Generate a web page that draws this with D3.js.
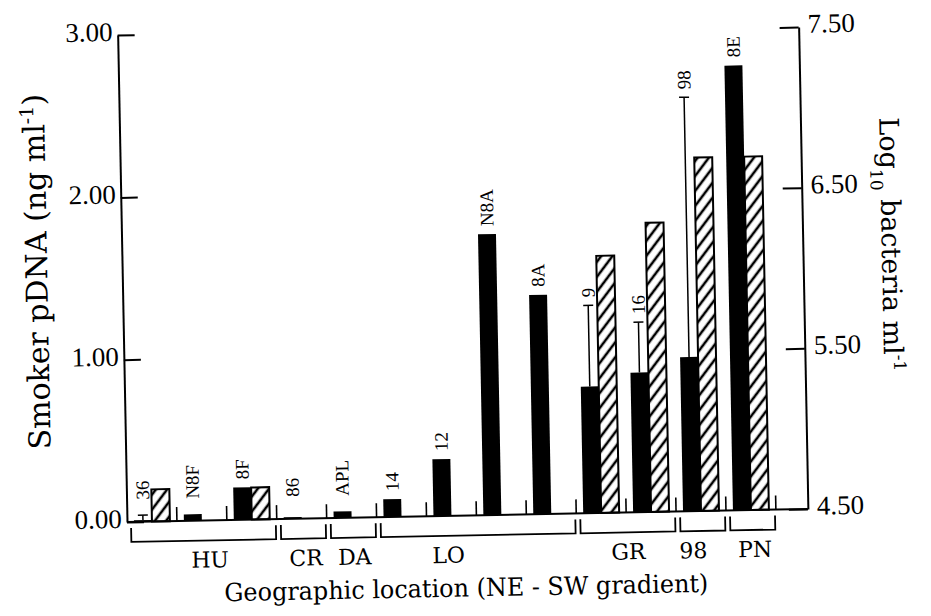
<!DOCTYPE html>
<html>
<head>
<meta charset="utf-8">
<script src="https://cdn.jsdelivr.net/npm/d3@7"></script>
<style>
  body { margin: 0; background: #fff; }
  text { font-family: "Liberation Serif", serif; fill: #000; }
  .title, .grp { font-family: "DejaVu Serif", serif; }
</style>
</head>
<body>
<div id="chart"></div>
<script>
// sites along the NE - SW gradient
const sites = ["36", "N8F", "8F", "86", "APL", "14", "12", "N8A", "8A", "9", "16", "98", "8E"];
// smoker pDNA (ng/ml), black bars
const pdna = [0.01, 0.04, 0.20, 0.01, 0.04, 0.11, 0.35, 1.73, 1.35, 0.78, 0.86, 0.95, 2.74];
// upper end of error bar, pDNA
const pdnaErr = [0.04, null, null, null, null, null, null, null, null, 1.28, 1.17, 2.55, null];
// log10 bacteria/ml, hatched bars
const bacteria = [4.70, null, 4.70, null, null, null, null, null, null, 6.10, 6.30, 6.70, 6.70];
// geographic groups
const groups = ["HU", "CR", "DA", "LO", "GR", "98", "PN"];
const groupSites = [["36", "N8F", "8F"], ["86"], ["APL"], ["14", "12", "N8A", "8A"], ["9", "16"], ["98"], ["8E"]];
const leftTicks = [0, 1, 2, 3];
const rightTicks = [4.5, 5.5, 6.5, 7.5];

const width = 931, height = 616;
const x0 = 127, x1 = 808, base = 522;

const svg = d3.select("#chart").append("svg")
    .attr("width", width)
    .attr("height", height);

svg.append("rect").attr("width", width).attr("height", height).attr("fill", "#fff");

svg.append("defs")
    .append("pattern")
    .attr("id", "hatch")
    .attr("patternUnits", "userSpaceOnUse")
    .attr("width", 9)
    .attr("height", 9)
    .attr("patternTransform", "rotate(38)")
    .append("line")
    .attr("x1", 2).attr("y1", 0)
    .attr("x2", 2).attr("y2", 9)
    .attr("stroke", "#000")
    .attr("stroke-width", 2.6);

// the scanned figure sits slightly tilted
const g = svg.append("g").attr("transform", "rotate(-1.1," + x0 + "," + base + ")");

const x = d3.scaleBand().domain(sites).range([x0, 776]).paddingInner(0.28).paddingOuter(0.14);
const xi = d3.scaleBand().domain(["dna", "bac"]).range([0, x.bandwidth()]);
const yL = d3.scaleLinear().domain([0, 3]).range([base, 35]);
const yR = d3.scaleLinear().domain([4.5, 7.5]).range([base, 40]);

// left axis, ticks pointing inward
const axL = g.append("g")
    .attr("transform", "translate(" + x0 + ",0)")
    .call(d3.axisLeft(yL).tickValues(leftTicks).tickFormat(d3.format(".2f"))
        .tickSizeInner(-17).tickSizeOuter(0).tickPadding(5));
const axR = g.append("g")
    .attr("transform", "translate(" + x1 + ",0)")
    .call(d3.axisRight(yR).tickValues(rightTicks).tickFormat(d3.format(".2f"))
        .tickSizeInner(-19).tickSizeOuter(0).tickPadding(9));
[axL, axR].forEach(a => {
    a.selectAll("path, line").attr("stroke", "#000").attr("stroke-width", 2);
    a.selectAll("text").style("font-size", "27px").style("font-family", "Liberation Serif").attr("dy", "0.2em");
});

// baseline
g.append("line")
    .attr("x1", x0).attr("x2", x1)
    .attr("y1", base).attr("y2", base)
    .attr("stroke", "#000").attr("stroke-width", 2);

// little separators between sites
const gap = x.step() - x.bandwidth();
g.selectAll(".sep").data(sites)
    .enter().append("line")
    .attr("class", "sep")
    .attr("x1", d => x(d) + x.bandwidth() + gap / 2)
    .attr("x2", d => x(d) + x.bandwidth() + gap / 2)
    .attr("y1", base).attr("y2", base - 14)
    .attr("stroke", "#000").attr("stroke-width", 1.6);

const rows = sites.map((s, i) => ({site: s, dna: pdna[i], err: pdnaErr[i], bac: bacteria[i]}));

// hatched bars (bacteria, right scale)
g.selectAll(".bac").data(rows.filter(d => d.bac != null))
    .enter().append("rect")
    .attr("class", "bac")
    .attr("x", d => x(d.site) + xi("bac"))
    .attr("width", xi.bandwidth())
    .attr("y", d => yR(d.bac))
    .attr("height", d => base - yR(d.bac))
    .attr("fill", "url(#hatch)")
    .attr("stroke", "#000")
    .attr("stroke-width", 2);

// black bars (pDNA, left scale)
g.selectAll(".dna").data(rows)
    .enter().append("rect")
    .attr("class", "dna")
    .attr("x", d => x(d.site) + xi("dna"))
    .attr("width", xi.bandwidth())
    .attr("y", d => yL(d.dna))
    .attr("height", d => base - yL(d.dna))
    .attr("fill", "#000");

// error bars
const errRows = rows.filter(d => d.err != null);
const cx = d => x(d.site) + xi("dna") + xi.bandwidth() / 2;
g.selectAll(".err").data(errRows)
    .enter().append("line")
    .attr("class", "err")
    .attr("x1", cx).attr("x2", cx)
    .attr("y1", d => yL(d.dna)).attr("y2", d => yL(d.err))
    .attr("stroke", "#000").attr("stroke-width", 1.5);
g.selectAll(".cap").data(errRows)
    .enter().append("line")
    .attr("class", "cap")
    .attr("x1", d => cx(d) - 5).attr("x2", d => cx(d) + 5)
    .attr("y1", d => yL(d.err)).attr("y2", d => yL(d.err))
    .attr("stroke", "#000").attr("stroke-width", 1.5);

// site labels, rotated
g.selectAll(".site").data(rows)
    .enter().append("text")
    .attr("class", "site")
    .attr("transform", d => {
        let top = Math.min(yL(d.dna), d.err != null ? yL(d.err) : base) - 8;
        top = Math.min(top, base - 22);
        return "translate(" + cx(d) + "," + top + ") rotate(-90)";
    })
    .attr("dy", "0.35em")
    .style("font-size", "19px")
    .text(d => d.site);

// group brackets
const grp = groups.map((name, i) => {
    const s = groupSites[i];
    return {name: name, xs: x(s[0]) - 3, xe: x(s[s.length - 1]) + x.bandwidth() + 6};
});
g.selectAll(".bracket").data(grp)
    .enter().append("path")
    .attr("class", "bracket")
    .attr("d", d => "M" + d.xs + "," + (base + 6) + "V" + (base + 20) + "H" + d.xe + "V" + (base + 6))
    .attr("fill", "none")
    .attr("stroke", "#000")
    .attr("stroke-width", 1.8);

const nudge = {HU: 6, CR: 2, DA: 1, LO: -30, "98": -10, PN: 2};
g.selectAll(".grp").data(grp)
    .enter().append("text")
    .attr("class", "grp")
    .attr("x", d => (d.xs + d.xe) / 2 + (nudge[d.name] || 0))
    .attr("y", base + 47)
    .attr("text-anchor", "middle")
    .style("font-size", "22px")
    .text(d => d.name);

// axis titles
g.append("text")
    .attr("class", "title")
    .attr("x", 465).attr("y", 603)
    .attr("text-anchor", "middle")
    .attr("textLength", 484)
    .attr("lengthAdjust", "spacingAndGlyphs")
    .style("font-size", "25px")
    .text("Geographic location (NE - SW gradient)");

const tl = g.append("text")
    .attr("class", "title")
    .attr("transform", "translate(52,270) rotate(-90)")
    .attr("text-anchor", "middle")
    .style("font-size", "30px");
tl.append("tspan").text("Smoker pDNA (ng ml");
tl.append("tspan").attr("baseline-shift", "super").style("font-size", "19px").text("-1");
tl.append("tspan").text(")");

const tr = g.append("text")
    .attr("class", "title")
    .attr("transform", "translate(887,259) rotate(90)")
    .attr("text-anchor", "middle")
    .style("font-size", "27px");
tr.append("tspan").text("Log");
tr.append("tspan").attr("baseline-shift", "sub").style("font-size", "17px").text("10");
tr.append("tspan").text(" bacteria ml");
tr.append("tspan").attr("baseline-shift", "super").style("font-size", "17px").text("-1");
</script>
</body>
</html>
